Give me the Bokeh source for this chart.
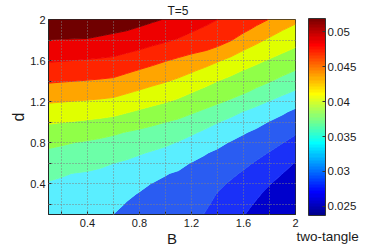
import numpy as np
from bokeh.plotting import figure
from bokeh.models import LinearColorMapper, ColorBar, FixedTicker
from bokeh.embed import file_html
from bokeh.resources import INLINE

# ---- data ----
B_values = [0.1, 0.2, 0.3, 0.4, 0.5, 0.6, 0.7, 0.8, 0.9, 1.0,
            1.1, 1.2, 1.3, 1.4, 1.5, 1.6, 1.7, 1.8, 1.9, 2.0]
d_values = [0.1, 0.2, 0.3, 0.4, 0.5, 0.6, 0.7, 0.8, 0.9, 1.0,
            1.1, 1.2, 1.3, 1.4, 1.5, 1.6, 1.7, 1.8, 1.9, 2.0]
# two-tangle, one row per d value (bottom to top), one column per B value
two_tangle = [
 [0.03328,0.03312,0.03290,0.03260,0.03215,0.03148,0.03122,0.03101,0.03078,0.03052,0.03017,0.02967,0.02893,0.02805,0.02741,0.02664,0.02557,0.02434,0.02370,0.02370],
 [0.03348,0.03334,0.03316,0.03291,0.03255,0.03194,0.03140,0.03120,0.03100,0.03077,0.03046,0.03002,0.02937,0.02848,0.02787,0.02718,0.02622,0.02510,0.02397,0.02370],
 [0.03368,0.03357,0.03343,0.03323,0.03294,0.03246,0.03179,0.03140,0.03122,0.03102,0.03075,0.03037,0.02980,0.02890,0.02833,0.02771,0.02686,0.02586,0.02481,0.02370],
 [0.03388,0.03380,0.03370,0.03355,0.03333,0.03297,0.03243,0.03186,0.03144,0.03127,0.03104,0.03072,0.03024,0.02944,0.02879,0.02825,0.02750,0.02662,0.02566,0.02446],
 [0.03436,0.03412,0.03396,0.03387,0.03372,0.03348,0.03308,0.03262,0.03211,0.03157,0.03134,0.03107,0.03068,0.03002,0.02937,0.02878,0.02815,0.02738,0.02651,0.02541],
 [0.03522,0.03498,0.03475,0.03450,0.03426,0.03400,0.03373,0.03337,0.03295,0.03248,0.03192,0.03142,0.03111,0.03060,0.03003,0.02943,0.02879,0.02814,0.02736,0.02637],
 [0.03608,0.03585,0.03562,0.03538,0.03515,0.03489,0.03454,0.03416,0.03379,0.03340,0.03289,0.03227,0.03162,0.03118,0.03070,0.03016,0.02953,0.02890,0.02820,0.02733],
 [0.03705,0.03678,0.03649,0.03626,0.03603,0.03579,0.03548,0.03514,0.03477,0.03437,0.03385,0.03325,0.03263,0.03197,0.03136,0.03088,0.03032,0.02972,0.02905,0.02828],
 [0.03812,0.03791,0.03768,0.03743,0.03713,0.03679,0.03641,0.03611,0.03579,0.03543,0.03496,0.03430,0.03364,0.03301,0.03235,0.03166,0.03111,0.03055,0.02993,0.02923],
 [0.03922,0.03905,0.03888,0.03870,0.03849,0.03822,0.03776,0.03732,0.03690,0.03650,0.03610,0.03552,0.03484,0.03407,0.03341,0.03279,0.03210,0.03138,0.03080,0.03015],
 [0.04045,0.04031,0.04015,0.04000,0.03983,0.03961,0.03915,0.03869,0.03824,0.03781,0.03733,0.03673,0.03615,0.03548,0.03469,0.03391,0.03330,0.03260,0.03178,0.03107],
 [0.04169,0.04156,0.04143,0.04130,0.04116,0.04097,0.04048,0.04001,0.03956,0.03912,0.03860,0.03794,0.03735,0.03680,0.03621,0.03542,0.03460,0.03388,0.03317,0.03231],
 [0.04298,0.04285,0.04272,0.04259,0.04246,0.04228,0.04180,0.04132,0.04084,0.04038,0.03985,0.03916,0.03850,0.03790,0.03736,0.03681,0.03607,0.03527,0.03453,0.03383],
 [0.04426,0.04413,0.04401,0.04388,0.04375,0.04357,0.04307,0.04258,0.04210,0.04164,0.04110,0.04043,0.03973,0.03901,0.03841,0.03785,0.03725,0.03663,0.03588,0.03514],
 [0.04549,0.04536,0.04524,0.04512,0.04499,0.04482,0.04433,0.04383,0.04334,0.04286,0.04235,0.04172,0.04102,0.04032,0.03960,0.03889,0.03831,0.03771,0.03709,0.03643],
 [0.04670,0.04659,0.04647,0.04635,0.04622,0.04605,0.04561,0.04513,0.04463,0.04409,0.04361,0.04314,0.04252,0.04170,0.04094,0.04018,0.03944,0.03879,0.03819,0.03757],
 [0.04782,0.04774,0.04766,0.04758,0.04739,0.04720,0.04684,0.04644,0.04598,0.04549,0.04494,0.04446,0.04409,0.04360,0.04252,0.04150,0.04069,0.03996,0.03930,0.03869],
 [0.04894,0.04890,0.04886,0.04881,0.04854,0.04829,0.04797,0.04756,0.04716,0.04679,0.04630,0.04562,0.04511,0.04471,0.04414,0.04308,0.04203,0.04114,0.04043,0.03978],
 [0.05006,0.05006,0.05005,0.05005,0.04969,0.04938,0.04911,0.04867,0.04824,0.04783,0.04740,0.04677,0.04612,0.04561,0.04505,0.04440,0.04353,0.04250,0.04156,0.04085],
 [0.05118,0.05121,0.05125,0.05128,0.05083,0.05047,0.05024,0.04977,0.04931,0.04888,0.04845,0.04793,0.04729,0.04651,0.04595,0.04534,0.04468,0.04393,0.04293,0.04202],
]
contour_levels = [0.0200, 0.0265, 0.0290, 0.0315, 0.0340, 0.0365, 0.0390,
                  0.0415, 0.0440, 0.0465, 0.0490, 0.0600]
band_colors = ["#0000CC", "#1A30F8", "#2A5CF2", "#5AEEFF", "#6CFFA8", "#90FF48",
               "#E0FF00", "#FFA500", "#FF2400", "#EE0000", "#700000"]
axis_ticks = [0.4, 0.8, 1.2, 1.6, 2.0]
axis_minor_ticks = [0.2, 0.6, 1.0, 1.4, 1.8]
axis_tick_labels = ["0.4", "0.8", "1.2", "1.6", "2"]
cbar_low, cbar_high = 0.0237, 0.0519
cbar_ticks = [0.025, 0.03, 0.035, 0.04, 0.045, 0.05]
cbar_tick_labels = ["0.025", "0.03", "0.035", "0.04", "0.045", "0.05"]


def jet(m=64):
    n = int(np.ceil(m / 4))
    u = np.concatenate([np.arange(1, n + 1) / n, np.ones(n - 1), np.arange(n, 0, -1) / n])
    g = int(np.ceil(n / 2)) - (1 if m % 4 == 1 else 0) + np.arange(1, len(u) + 1)
    r = g + n
    bb = g - n
    J = np.zeros((m, 3))
    for idx, col in ((r, 0), (g, 1), (bb, 2)):
        for k, ii in enumerate(idx):
            if 1 <= ii <= m:
                J[ii - 1, col] = u[k]
    return ["#%02x%02x%02x" % tuple(int(round(c * 255)) for c in row) for row in J]


FONT = "Liberation Sans"
TXT = "#1a1a1a"
p = figure(width=374, height=249, output_backend="svg", toolbar_location=None,
           x_range=(0.1, 2.0), y_range=(0.1, 2.0),
           min_border_left=48, min_border_right=79, min_border_top=19, min_border_bottom=34)
# each level's edge is drawn in the colour of the band above it, hiding seams
edge_colors = band_colors + [band_colors[-1]]
p.contour(x=np.array(B_values), y=np.array(d_values), z=np.array(two_tangle),
          levels=contour_levels, fill_color=band_colors,
          line_color=edge_colors, line_width=1)

p.title.text = "T=5"
p.title.align = "left"
p.title.offset = 119
p.title.standoff = 3
p.title.text_font = FONT
p.title.text_font_size = "12px"
p.title.text_font_style = "normal"
p.title.text_color = TXT

ticker = FixedTicker(ticks=axis_ticks, minor_ticks=axis_minor_ticks)
for ax in (p.xaxis[0], p.yaxis[0]):
    ax.ticker = ticker
    ax.major_label_overrides = dict(zip(axis_ticks, axis_tick_labels))
    ax.major_tick_in = 3
    ax.major_tick_out = 0
    ax.minor_tick_in = 3
    ax.minor_tick_out = 0
    ax.major_label_text_font = FONT
    ax.major_label_text_font_size = "11px"
    ax.major_label_text_color = TXT
    ax.axis_line_color = "#262626"
    ax.major_tick_line_color = "#262626"
    ax.minor_tick_line_color = "#262626"
    ax.axis_label_text_font = FONT
    ax.axis_label_text_font_style = "normal"
    ax.axis_label_text_color = TXT
    ax.axis_label_standoff = 0
p.xaxis.major_label_standoff = 4
p.yaxis.major_label_standoff = 3
p.xaxis.axis_label = "B"
p.xaxis.axis_label_text_font_size = "15px"
p.yaxis.axis_label = "d"
p.yaxis.axis_label_text_font_size = "16px"
p.outline_line_color = "#262626"

for gr in (p.xgrid[0], p.ygrid[0]):
    gr.ticker = ticker
    gr.level = "overlay"
    gr.grid_line_color = "#808080"
    gr.grid_line_dash = "1 2"
    gr.minor_grid_line_color = "#808080"
    gr.minor_grid_line_dash = "1 2"

mapper = LinearColorMapper(palette=jet(64), low=cbar_low, high=cbar_high)
cb = ColorBar(color_mapper=mapper, width=17, height=197, location=(260, -1), padding=0, margin=0,
              ticker=FixedTicker(ticks=cbar_ticks),
              major_label_overrides=dict(zip(cbar_ticks, cbar_tick_labels)),
              major_tick_line_color="#333333", major_tick_in=3, bar_line_color="#333333",
              label_standoff=2, major_label_text_font=FONT, major_label_text_font_size="11.5px",
              major_label_text_color=TXT, background_fill_alpha=0)
p.add_layout(cb, "center")

# the colour bar's caption, drawn under it
caption = ColorBar(color_mapper=mapper, orientation="horizontal", width=1, height=1,
                   location=(248, -30), padding=0, margin=0,
                   scale_alpha=0, bar_line_color=None, major_tick_line_color=None,
                   ticker=FixedTicker(ticks=[]), major_label_text_font_size="0px",
                   background_fill_alpha=0, border_line_color=None,
                   title="two-tangle", title_standoff=0, title_text_font=FONT,
                   title_text_font_size="13.5px", title_text_font_style="normal",
                   title_text_color=TXT)
p.add_layout(caption, "center")

open("out.html", "w").write(file_html(p, INLINE))
